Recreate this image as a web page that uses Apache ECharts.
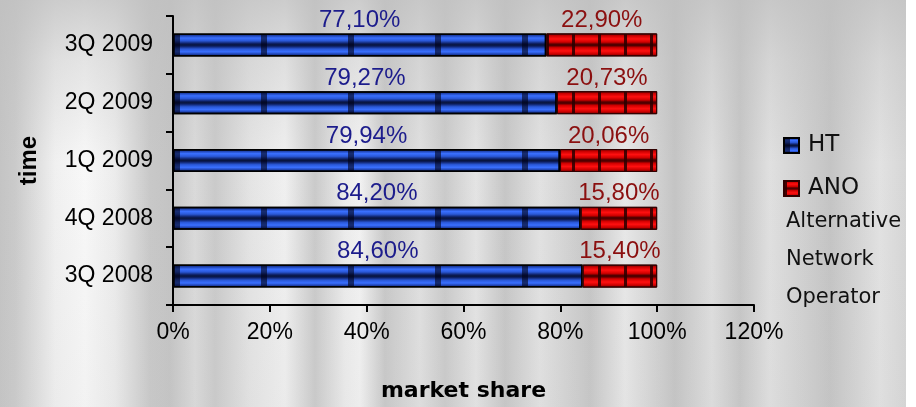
<!DOCTYPE html>
<html>
<head>
<meta charset="utf-8">
<script src="https://cdn.jsdelivr.net/npm/echarts@6/dist/echarts.min.js"></script>
<style>html,body{margin:0;padding:0;background:#fff}#c{width:916px;height:407px}</style>
</head>
<body>
<div id="c"></div>
<script>
const categories = ['3Q 2008', '4Q 2008', '1Q 2009', '2Q 2009', '3Q 2009'];
const htValues = [84.60, 84.20, 79.94, 79.27, 77.10];
const anoValues = [15.40, 15.80, 20.06, 20.73, 22.90];
const xTicks = { min: 0, max: 120, interval: 20 };
const seriesNames = ['HT', 'ANO'];
const legendNote = ['Alternative', 'Network', 'Operator'];

const chart = echarts.init(document.getElementById('c'), null, { renderer: 'canvas' });

const bgStops = [
  [0, '#c4c4c4'], [15, '#cacaca'], [55, '#f0f0f0'], [85, '#f8f8f8'], [115, '#ececec'],
  [150, '#c8c8c8'], [170, '#c4c4c4'], [195, '#dadada'], [215, '#cacaca'], [250, '#e4e4e4'],
  [285, '#f0f0f0'], [315, '#cacaca'], [345, '#ececec'], [360, '#f2f2f2'], [385, '#c8c8c8'],
  [420, '#e0e0e0'], [445, '#cacaca'], [476, '#e4e4e4'], [505, '#c6c6c6'], [540, '#e2e2e2'],
  [590, '#c6c6c6'], [625, '#e8e8e8'], [675, '#c4c4c4'], [712, '#dedede'], [740, '#c6c6c6'],
  [770, '#e0e0e0'], [830, '#c4c4c4'], [880, '#e2e2e2'], [906, '#d6d6d6']
].map(s => ({ offset: s[0] / 906, color: s[1] }));

const blueFill = new echarts.graphic.LinearGradient(0, 0, 0, 1, [
  { offset: 0, color: '#0a1540' }, { offset: 0.08, color: '#1a3aa0' }, { offset: 0.2, color: '#3a70ff' },
  { offset: 0.32, color: '#2a58d8' }, { offset: 0.45, color: '#0c1c5a' }, { offset: 0.5, color: '#08153f' },
  { offset: 0.55, color: '#0c1c5a' }, { offset: 0.68, color: '#2a58d8' }, { offset: 0.8, color: '#3a70ff' },
  { offset: 0.92, color: '#1a3aa0' }, { offset: 1, color: '#0a1540' }
]);
const redFill = new echarts.graphic.LinearGradient(0, 0, 0, 1, [
  { offset: 0, color: '#500000' }, { offset: 0.1, color: '#c80000' }, { offset: 0.24, color: '#ff1010' },
  { offset: 0.38, color: '#d00000' }, { offset: 0.47, color: '#500000' }, { offset: 0.53, color: '#500000' },
  { offset: 0.62, color: '#d00000' }, { offset: 0.76, color: '#ff1010' }, { offset: 0.9, color: '#c80000' },
  { offset: 1, color: '#500000' }
]);

function fmt(p) { return p.value.toFixed(2).replace('.', ',') + '%'; }

const option = {
  animation: false,
  graphic: [
    { type: 'rect', z: -10, silent: true, shape: { x: 0, y: 0, width: 906, height: 407 },
      style: { fill: new echarts.graphic.LinearGradient(0, 0, 1, 0, bgStops) } },
    { type: 'rect', z: -9, silent: true, shape: { x: 0, y: 0, width: 906, height: 407 },
      style: { fill: new echarts.graphic.LinearGradient(0, 0, 0, 1, [
        { offset: 0, color: 'rgba(192,192,192,0.75)' }, { offset: 0.15, color: 'rgba(192,192,192,0.35)' },
        { offset: 0.4, color: 'rgba(192,192,192,0)' }, { offset: 1, color: 'rgba(192,192,192,0.1)' }]) } },
    { type: 'rect', z: -9, silent: true, shape: { x: 906, y: 0, width: 10, height: 407 }, style: { fill: '#ffffff' } }
  ],
  title: {
    text: legendNote.join('\n'),
    left: 786, top: 203, padding: 0,
    textStyle: { fontFamily: 'DejaVu Sans', fontSize: 21, fontWeight: 'normal', color: '#111', lineHeight: 38 }
  },
  legend: {
    data: seriesNames,
    orient: 'vertical', left: 783, top: 134, padding: 0,
    itemWidth: 15, itemHeight: 15, itemGap: 20,
    icon: 'rect',
    textStyle: { fontFamily: 'DejaVu Sans', fontSize: 23, color: '#111', padding: [0, 0, 0, 4] }
  },
  grid: { left: 173, top: 16, width: 581, height: 296, containLabel: false },
  xAxis: {
    type: 'value', min: xTicks.min, max: xTicks.max, interval: xTicks.interval,
    name: 'market share', nameLocation: 'middle', nameGap: 75,
    nameTextStyle: { fontFamily: 'DejaVu Sans', fontWeight: 'bold', fontSize: 22, color: '#000' },
    axisLine: { show: true, lineStyle: { color: '#000', width: 2 } },
    axisTick: { show: true, length: 7, lineStyle: { color: '#000', width: 2 } },
    axisLabel: { formatter: '{value}%', margin: 16, fontFamily: 'Liberation Sans', fontSize: 23, color: '#000' },
    splitLine: { show: false }
  },
  yAxis: {
    type: 'category', data: categories,
    name: 'time', nameLocation: 'middle', nameGap: 132, nameRotate: 90,
    nameTextStyle: { fontFamily: 'Liberation Sans', fontWeight: 'bold', fontSize: 24, color: '#000' },
    axisLine: { show: true, lineStyle: { color: '#000', width: 2 } },
    axisTick: { show: true, length: 7, lineStyle: { color: '#000', width: 2 } },
    axisLabel: { margin: 20, fontFamily: 'Liberation Sans', fontSize: 23, color: '#000' },
    splitLine: { show: false }
  },
  series: [
    {
      name: seriesNames[0], type: 'bar', stack: 'total', barWidth: 23, data: htValues,
      itemStyle: {
        color: blueFill, borderColor: '#000', borderWidth: 1.5,
        decal: { symbol: 'rect', symbolSize: 1, color: 'rgba(0,0,20,0.6)', dashArrayX: [6, 81], dashArrayY: [4, 0], rotation: 0 }
      },
      label: { show: true, position: 'top', distance: 1, formatter: fmt, fontFamily: 'Liberation Sans', fontSize: 24, color: '#1c1c8c' }
    },
    {
      name: seriesNames[1], type: 'bar', stack: 'total', barWidth: 23, data: anoValues,
      itemStyle: {
        color: redFill, borderColor: '#300000', borderWidth: 1,
        decal: { symbol: 'rect', symbolSize: 1, color: 'rgba(40,0,0,0.85)', dashArrayX: [3, 23], dashArrayY: [4, 0], rotation: 0 }
      },
      label: { show: true, position: 'top', distance: 1, formatter: fmt, fontFamily: 'Liberation Sans', fontSize: 24, color: '#8b1010' }
    }
  ]
};
chart.setOption(option);
</script>
</body>
</html>
